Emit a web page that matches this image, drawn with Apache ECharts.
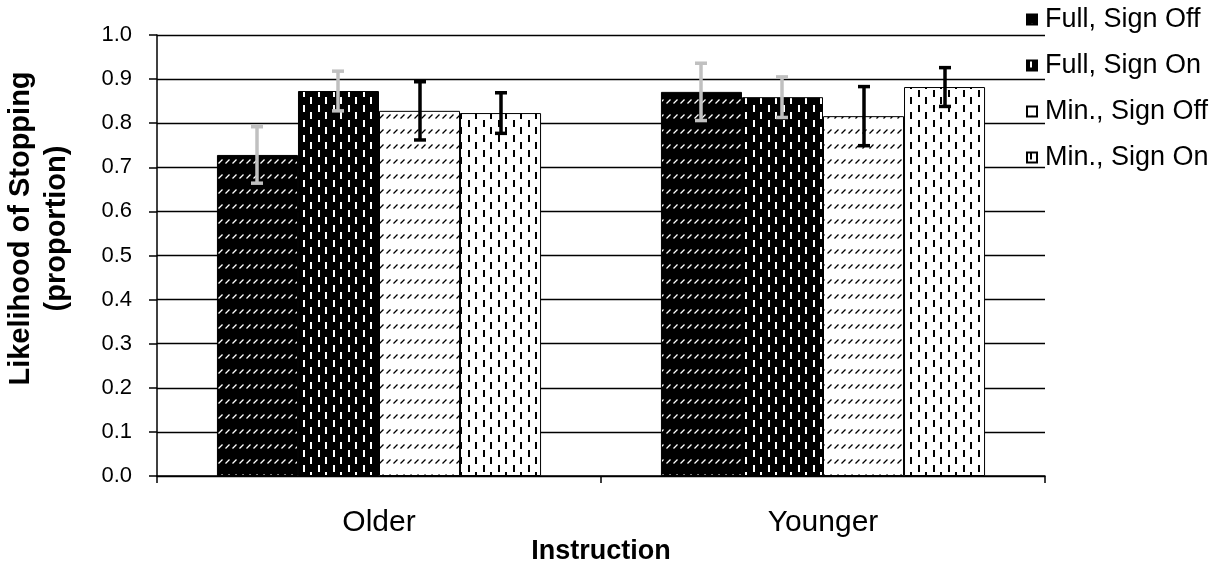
<!DOCTYPE html>
<html>
<head>
<meta charset="utf-8">
<script src="https://cdn.jsdelivr.net/npm/echarts@6/dist/echarts.min.js"></script>
<style>html,body{margin:0;padding:0;background:#fff}#chart{width:1229px;height:567px}</style>
</head>
<body>
<div id="chart"></div>
<script>
// ---- data ----
var categories = ['Older', 'Younger'];
var seriesNames = ['Full, Sign Off', 'Full, Sign On', 'Min., Sign Off', 'Min., Sign On'];
var fullSignOff = [0.728, 0.871];
var fullSignOn = [0.873, 0.859];
var minSignOff = [0.828, 0.816];
var minSignOn = [0.823, 0.882];
var fullSignOffErr = [0.064, 0.065];
var fullSignOnErr = [0.045, 0.046];
var minSignOffErr = [0.066, 0.067];
var minSignOnErr = [0.046, 0.044];
var yTicks = [0, 0.1, 0.2, 0.3, 0.4, 0.5, 0.6, 0.7, 0.8, 0.9, 1.0];

// ---- patterns ----
function diagTile(bg, fg) {
  var c = document.createElement('canvas');
  c.width = 7; c.height = 15;
  var g = c.getContext('2d');
  g.fillStyle = bg; g.fillRect(0, 0, 7, 15);
  g.strokeStyle = fg; g.lineWidth = 1.3;
  g.beginPath(); g.moveTo(1.5, 13.5); g.lineTo(5.5, 9.5); g.stroke();
  return c;
}
function vertTile(bg, fg) {
  var c = document.createElement('canvas');
  c.width = 15; c.height = 15;
  var g = c.getContext('2d');
  g.fillStyle = bg; g.fillRect(0, 0, 15, 15);
  g.fillStyle = fg;
  g.fillRect(3, 0, 2, 7);
  g.fillRect(10, 7, 2, 7);
  return c;
}
var fills = [
  {image: diagTile('#000', '#fff'), repeat: 'repeat'},
  {image: vertTile('#000', '#fff'), repeat: 'repeat'},
  {image: diagTile('#fff', '#000'), repeat: 'repeat'},
  {image: vertTile('#fff', '#000'), repeat: 'repeat'}
];
var values = [fullSignOff, fullSignOn, minSignOff, minSignOn];
var errs = [fullSignOffErr, fullSignOnErr, minSignOffErr, minSignOnErr];
var errColors = ['#c0c0c0', '#c0c0c0', '#000', '#000'];
var catGap = 0.27;

var series = [];
values.forEach(function (v, i) {
  series.push({
    name: seriesNames[i], type: 'bar', data: v,
    barGap: '0%', barCategoryGap: (catGap * 100) + '%',
    itemStyle: {color: fills[i], borderColor: '#000', borderWidth: 1},
    emphasis: {disabled: true}, z: 2
  });
});
values.forEach(function (v, i) {
  var data = v.map(function (val, k) { return [k, val, errs[i][k]]; });
  series.push({
    type: 'custom', data: data, z: 5, silent: true,
    renderItem: function (params, api) {
      var k = api.value(0), val = api.value(1), e = api.value(2);
      var bandW = api.size([1, 0])[0];
      var barW = bandW * (1 - catGap) / 4;
      var c = api.coord([k, val]);
      var x = Math.round(c[0] + (i - 1.5) * barW);
      var yHi = api.coord([k, val + e])[1];
      var yLo = api.coord([k, val - e])[1];
      var st = {stroke: errColors[i], lineWidth: 3.5};
      return {type: 'group', children: [
        {type: 'line', shape: {x1: x, y1: yHi, x2: x, y2: yLo}, style: st},
        {type: 'line', shape: {x1: x - 6, y1: yHi, x2: x + 6, y2: yHi}, style: st},
        {type: 'line', shape: {x1: x - 6, y1: yLo, x2: x + 6, y2: yLo}, style: st}
      ]};
    }
  });
});

var chart = echarts.init(document.getElementById('chart'), null, {renderer: 'canvas'});
chart.setOption({
  animation: false,
  backgroundColor: '#fff',
  textStyle: {fontFamily: 'Liberation Sans, Arial, sans-serif', color: '#000'},
  grid: {left: 157, right: 184, top: 35, bottom: 91, containLabel: false, outerBoundsMode: 'none'},
  legend: {
    orient: 'vertical', left: 1026, top: 6, padding: 0,
    itemWidth: 10, itemHeight: 10, itemGap: 19,
    icon: 'rect',
    data: seriesNames,
    textStyle: {fontSize: 27, color: '#000', fontFamily: 'Liberation Sans, Arial, sans-serif', padding: [0, 0, 0, 3]},
    selectedMode: false
  },
  xAxis: {
    type: 'category', data: categories,
    axisLine: {lineStyle: {color: '#000', width: 1.5}},
    axisTick: {show: true, length: 7, lineStyle: {color: '#000', width: 1.5}},
    axisLabel: {fontSize: 30, color: '#000', margin: 32},
    name: 'Instruction', nameLocation: 'middle', nameGap: 62, nameMoveOverlap: false,
    nameTextStyle: {fontSize: 27, fontWeight: 'bold', color: '#000'}
  },
  yAxis: {
    type: 'value', min: 0, max: 1, interval: 0.1,
    axisLine: {show: true, lineStyle: {color: '#000', width: 1.5}},
    axisTick: {show: true, length: 8, lineStyle: {color: '#000', width: 1.5}},
    axisLabel: {fontSize: 22, color: '#000', margin: 25, formatter: function (v) { return v.toFixed(1); }},
    splitLine: {show: true, lineStyle: {color: '#000', width: 1.3}},
    name: 'Likelihood of Stopping\n(proportion)', nameLocation: 'middle', nameGap: 82, nameMoveOverlap: false,
    nameTextStyle: {fontSize: 29, fontWeight: 'bold', color: '#000', lineHeight: 36, align: 'center', padding: [0, 0, 0, 54]}
  },
  series: series
});
</script>
</body>
</html>
